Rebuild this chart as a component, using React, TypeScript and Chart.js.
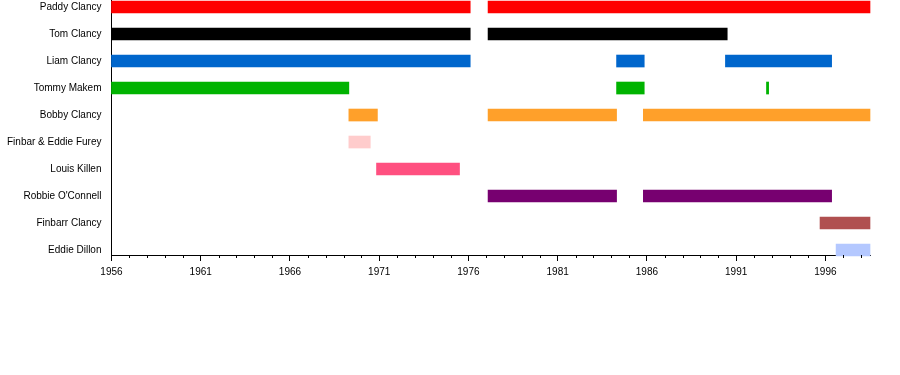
import React, { useEffect, useRef } from "react";
import { Chart, registerables } from "chart.js";

Chart.register(...registerables);

const members = [
  "Paddy Clancy",
  "Tom Clancy",
  "Liam Clancy",
  "Tommy Makem",
  "Bobby Clancy",
  "Finbar & Eddie Furey",
  "Louis Killen",
  "Robbie O'Connell",
  "Finbarr Clancy",
  "Eddie Dillon",
];

const paddy = [[1956, 1976.1], [1977.1, 1998.5]];
const tom = [[1956, 1976.1], [1977.1, 1990.5]];
const liam = [[1956, 1976.1], [1984.3, 1985.85], [1990.4, 1996.35]];
const tommy = [[1956, 1969.3], [1984.3, 1985.85], [1992.7, 1992.82]];
const bobby = [[1969.3, 1970.9], [1977.1, 1984.3], [1985.8, 1998.5]];
const furey = [[1969.3, 1970.5]];
const killen = [[1970.85, 1975.5]];
const robbie = [[1977.1, 1984.3], [1985.8, 1996.35]];
const finbarr = [[1995.7, 1998.5]];
const dillon = [[1996.6, 1998.5]];

const periods = [paddy, tom, liam, tommy, bobby, furey, killen, robbie, finbarr, dillon];
const colors = [
  "#ff0000",
  "#000000",
  "#0066cc",
  "#00b300",
  "#ffa02a",
  "#ffcccc",
  "#ff5080",
  "#770070",
  "#b05050",
  "#b4c8ff",
];

const yearMin = 1956;
const yearMax = 1998.5;
const majorTicks = [1956, 1961, 1966, 1971, 1976, 1981, 1986, 1991, 1996];

const minorTickPlugin = {
  id: "minorTicks",
  afterDraw(chart: any) {
    const x = chart.scales.x;
    const ctx = chart.ctx;
    const bottom = chart.chartArea.bottom;
    ctx.save();
    ctx.strokeStyle = "#000";
    ctx.lineWidth = 1;
    for (let yr = 1957; yr <= 1998; yr++) {
      if ((yr - 1956) % 5 === 0) continue;
      const px = Math.round(x.getPixelForValue(yr)) + 0.5;
      ctx.beginPath();
      ctx.moveTo(px, bottom);
      ctx.lineTo(px, bottom + 3);
      ctx.stroke();
    }
    ctx.restore();
  },
};

export default function App() {
  const ref = useRef<HTMLCanvasElement | null>(null);
  useEffect(() => {
    if (!ref.current) return;
    const datasets = members.map((name, i) => ({
      label: name,
      data: periods[i].map((p) => ({ x: p, y: i })),
      backgroundColor: colors[i],
      borderWidth: 0,
      barThickness: 12,
      grouped: false,
      clip: false as any,
    }));
    const chart = new Chart(ref.current, {
      type: "bar",
      data: { datasets: datasets as any },
      plugins: [minorTickPlugin],
      options: {
        animation: false,
        responsive: true,
        maintainAspectRatio: false,
        indexAxis: "y",
        layout: { padding: { left: 0, right: 30, top: 0, bottom: 91 } },
        plugins: { legend: { display: false }, tooltip: { enabled: false } },
        scales: {
          x: {
            type: "linear",
            min: yearMin,
            max: yearMax,
            offset: false,
            afterBuildTicks: (s: any) => {
              s.ticks = majorTicks.map((v) => ({ value: v }));
            },
            ticks: {
              color: "#000",
              padding: 5,
              maxRotation: 0,
              font: { family: "'Liberation Sans', Arial, sans-serif", size: 10 },
              callback: (v: any) => String(v),
            },
            grid: { drawOnChartArea: false, drawTicks: true, tickLength: 6, tickColor: "#000", offset: false },
            border: { display: true, color: "#000", width: 1 },
          },
          y: {
            type: "linear",
            reverse: true,
            offset: false,
            min: -0.26,
            max: 9.184,
            afterBuildTicks: (s: any) => {
              s.ticks = members.map((_, i) => ({ value: i }));
            },
            ticks: {
              color: "#000",
              padding: 10,
              font: { family: "'Liberation Sans', Arial, sans-serif", size: 10 },
              callback: (v: any) => members[v] ?? "",
            },
            grid: { drawOnChartArea: false, drawTicks: false, offset: false },
            border: { display: true, color: "#000", width: 1 },
          },
        },
      },
    });
    return () => chart.destroy();
  }, []);
  return (
    <div style={{ position: "absolute", left: -3, top: -16, width: 903, height: 390 }}>
      <canvas ref={ref} />
    </div>
  );
}
